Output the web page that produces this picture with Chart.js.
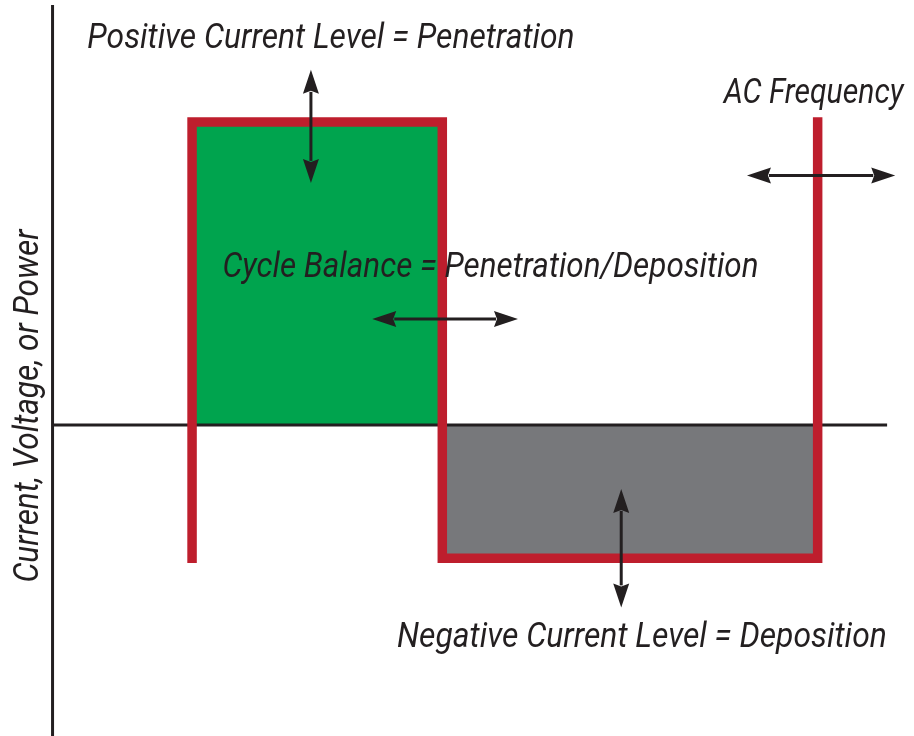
<!DOCTYPE html>
<html>
<head>
<meta charset="utf-8">
<script src="https://cdn.jsdelivr.net/npm/chart.js@4.4.0/dist/chart.umd.min.js"></script>
<style>
  html, body { margin: 0; padding: 0; background: #fff; }
  #wrap { width: 914px; height: 736px; position: relative; }
</style>
</head>
<body>
<div id="wrap"><canvas id="chart"></canvas></div>
<script>
// AC square wave: time in ms, level in amps (relative)
const waveTime = [0, 0, 4, 4, 10, 10];
const waveLevel = [-44, 100, 100, -44, -44, 100];
const positiveLevel = 100;
const negativeLevel = -44;
const positiveSpan = [0, 4];
const negativeSpan = [4, 10];

// axis lines (data units)
const axisXSpan = [-2.23, 11.11];
const axisYSpan = [-102.6, 138.6];
const axisYAt = -2.23;

// annotation labels: [text, xLeft, xRight, baselineY]
const labelText = [
  'Positive Current Level = Penetration',
  'AC Frequency',
  'Cycle Balance = Penetration/Deposition',
  'Negative Current Level = Deposition'
];
const labelLeft = [-1.66, 8.47, 0.50, 3.29];
const labelRight = [6.09, 11.40, 9.03, 11.08];
const labelBase = [124.4, 106.4, 48.7, -73.2];

// double arrows: [x1, y1, x2, y2]
const arrows = [
  [1.90, 117.2, 1.90, 79.9],
  [2.88, 35.0, 5.21, 35.0],
  [8.87, 82.3, 11.24, 82.3],
  [6.86, -21.1, 6.86, -60.2]
];

const yTitle = 'Current, Voltage, or Power';

const RED = '#BE1E2D';
const GREEN = '#00A44E';
const GRAY = '#77787B';
const INK = '#231F20';
const FONT = 'italic 35px Roboto, "Liberation Sans", sans-serif';

const pts = (xs, ys) => xs.map((x, i) => ({ x: x, y: ys[i] }));

// squeeze text horizontally so its ink fits between x0 and x1
function fitText(ctx, text, x0, x1, yBase) {
  const m = ctx.measureText(text);
  const ink = m.actualBoundingBoxLeft + m.actualBoundingBoxRight;
  const sx = (x1 - x0) / ink;
  ctx.save();
  ctx.translate(x0, yBase);
  ctx.scale(sx, 1);
  ctx.fillText(text, m.actualBoundingBoxLeft, 0);
  ctx.restore();
}

function drawArrow(ctx, x1, y1, x2, y2) {
  const ang = Math.atan2(y2 - y1, x2 - x1);
  const len = Math.hypot(x2 - x1, y2 - y1);
  const head = 24, half = 8;
  ctx.save();
  ctx.translate(x1, y1);
  ctx.rotate(ang);
  ctx.fillStyle = INK;
  ctx.strokeStyle = INK;
  ctx.lineWidth = 3;
  ctx.beginPath();
  ctx.moveTo(head - 2, 0);
  ctx.lineTo(len - head + 2, 0);
  ctx.stroke();
  ctx.beginPath();
  ctx.moveTo(0, 0); ctx.lineTo(head, -half); ctx.lineTo(head - 3, 0); ctx.lineTo(head, half);
  ctx.closePath(); ctx.fill();
  ctx.beginPath();
  ctx.moveTo(len, 0); ctx.lineTo(len - head, -half); ctx.lineTo(len - head + 3, 0); ctx.lineTo(len - head, half);
  ctx.closePath(); ctx.fill();
  ctx.restore();
}

const annotations = {
  id: 'annotations',
  afterDatasetsDraw(chart) {
    const ctx = chart.ctx;
    const sx = chart.scales.x, sy = chart.scales.y;
    arrows.forEach(a => drawArrow(ctx,
      sx.getPixelForValue(a[0]), sy.getPixelForValue(a[1]),
      sx.getPixelForValue(a[2]), sy.getPixelForValue(a[3])));
    ctx.save();
    ctx.font = FONT;
    ctx.fillStyle = INK;
    ctx.textAlign = 'left';
    ctx.textBaseline = 'alphabetic';
    labelText.forEach((t, i) => fitText(ctx, t,
      sx.getPixelForValue(labelLeft[i]), sx.getPixelForValue(labelRight[i]),
      sy.getPixelForValue(labelBase[i])));
    // rotated y-axis title, left of the axis line
    ctx.translate(38, sy.getPixelForValue(-51.7));
    ctx.rotate(-Math.PI / 2);
    fitText(ctx, yTitle, 0, sy.getPixelForValue(-51.7) - sy.getPixelForValue(65.0), 0);
    ctx.restore();
  }
};

new Chart(document.getElementById('chart'), {
  type: 'line',
  data: {
    datasets: [
      {
        label: 'Waveform',
        data: pts(waveTime, waveLevel),
        borderColor: RED,
        borderWidth: 9.5,
        borderJoinStyle: 'miter',
        borderCapStyle: 'square',
        pointRadius: 0,
        fill: false,
        order: 0
      },
      {
        label: 'Zero line',
        data: pts(axisXSpan, [0, 0]),
        borderColor: INK,
        borderWidth: 3,
        pointRadius: 0,
        fill: false,
        order: 1
      },
      {
        label: 'Y axis',
        data: pts([axisYAt, axisYAt], axisYSpan),
        borderColor: INK,
        borderWidth: 3,
        pointRadius: 0,
        fill: false,
        order: 1
      },
      {
        label: 'Penetration',
        data: pts(positiveSpan, [positiveLevel, positiveLevel]),
        borderWidth: 0,
        borderColor: 'rgba(0,0,0,0)',
        backgroundColor: GREEN,
        pointRadius: 0,
        fill: 'origin',
        order: 2
      },
      {
        label: 'Deposition',
        data: pts(negativeSpan, [negativeLevel, negativeLevel]),
        borderWidth: 0,
        borderColor: 'rgba(0,0,0,0)',
        backgroundColor: GRAY,
        pointRadius: 0,
        fill: 'origin',
        order: 2
      }
    ]
  },
  options: {
    responsive: true,
    maintainAspectRatio: false,
    animation: false,
    events: [],
    layout: { padding: 0 },
    scales: {
      x: { type: 'linear', min: -3.07, max: 11.54, display: false },
      y: { type: 'linear', min: -102.64, max: 140.26, display: false }
    },
    plugins: {
      legend: { display: false },
      tooltip: { enabled: false }
    }
  },
  plugins: [annotations]
});
</script>
</body>
</html>
